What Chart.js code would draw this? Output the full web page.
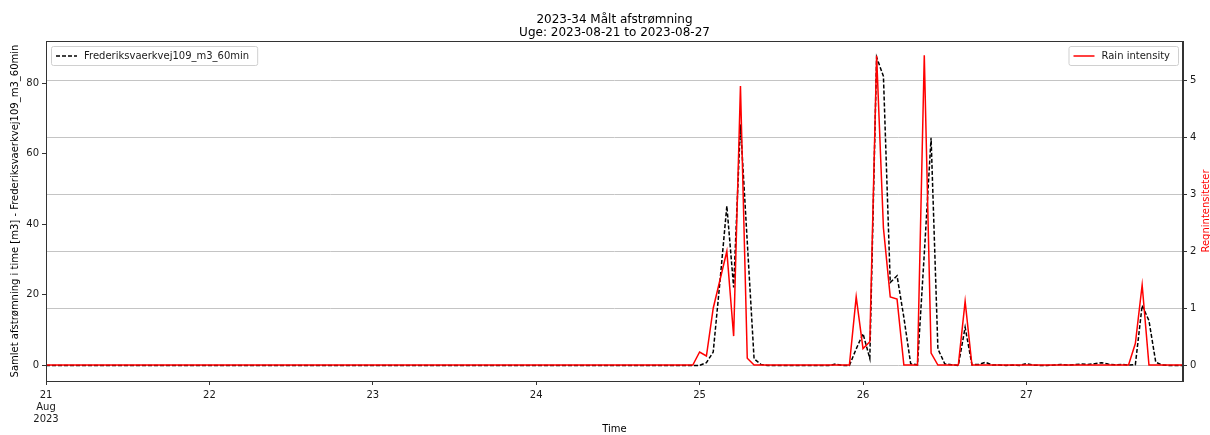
<!DOCTYPE html>
<html>
<head>
<meta charset="utf-8">
<title>2023-34 Målt afstrømning</title>
<script src="https://cdn.jsdelivr.net/npm/chart.js@4.4.0/dist/chart.umd.min.js"></script>
<style>
  html, body { margin: 0; padding: 0; background: #fff; }
  #wrap { width: 1210px; height: 435px; }
</style>
</head>
<body>
<div id="wrap"><canvas id="runoffChart" width="1210" height="435"></canvas></div>
<script>
// days in the week (tick labels)
const dayTicks = ['21', '22', '23', '24', '25', '26', '27'];

// hourly runoff [m3], one row per day (24 values)
const runoff = [
  0,0,0,0,0,0,0,0,0,0,0,0,0,0,0,0,0,0,0,0,0,0,0,0,          // 21
  0,0,0,0,0,0,0,0,0,0,0,0,0,0,0,0,0,0,0,0,0,0,0,0,          // 22
  0,0,0,0,0,0,0,0,0,0,0,0,0,0,0,0,0,0,0,0,0,0,0,0,          // 23
  0,0,0,0,0,0,0,0,0,0,0,0,0,0,0,0,0,0,0,0,0,0,0,0,          // 24
  0,0.8,3.8,24,45.2,22.1,68.3,35,1.9,0.3,0,0,0,0,0,0,0,0,0,0,0.4,0,0,4.7,   // 25
  9.0,2.0,87.3,81.9,23.5,25.4,13.6,0.5,0.2,31.6,64.5,4.7,0.5,0.2,0,10.8,0.2,0.3,0.9,0.1,0.1,0,0.1,0,   // 26
  0.5,0.1,0,0,0.1,0.3,0.1,0.2,0.4,0.3,0.5,0.8,0.4,0.2,0.3,0.1,0.2,17,12.7,0.9,0.1,0,0,0  // 27
];
// hourly rain intensity, one row per day
const rain = [
  0,0,0,0,0,0,0,0,0,0,0,0,0,0,0,0,0,0,0,0,0,0,0,0,
  0,0,0,0,0,0,0,0,0,0,0,0,0,0,0,0,0,0,0,0,0,0,0,0,
  0,0,0,0,0,0,0,0,0,0,0,0,0,0,0,0,0,0,0,0,0,0,0,0,
  0,0,0,0,0,0,0,0,0,0,0,0,0,0,0,0,0,0,0,0,0,0,0,0,
  0.23,0.16,1.0,1.5,2.0,0.51,4.91,0.12,0,0,0,0,0,0,0,0,0,0,0,0,0,0,0,1.2,
  0.29,0.41,5.44,2.41,1.2,1.16,0,0,0,5.45,0.21,0,0,0,0,1.12,0,0,0,0,0,0,0,0,
  0,0,0,0,0,0,0,0,0,0,0,0,0,0,0,0,0.38,1.41,0,0,0,0,0,0
];

const hourLabels = [];
dayTicks.forEach(d => {
  for (let h = 0; h < 24; h++) hourLabels.push('2023-08-' + d + ' ' + String(h).padStart(2, '0') + ':00');
});

Chart.defaults.font.family = 'DejaVu Sans';
Chart.defaults.font.size = 10;
Chart.defaults.color = '#1a1a1a';

const FRAME = '#333333';

// two matplotlib-like legends, frame and right axis label
const extras = {
  id: 'extras',
  afterDraw(chart) {
    const { ctx, chartArea: a } = chart;
    ctx.save();
    // frame
    ctx.strokeStyle = FRAME;
    ctx.lineWidth = 1;
    ctx.strokeRect(a.left + 0.5, a.top + 0.5, a.right - a.left - 1, a.bottom - a.top);

    ctx.font = '10px "DejaVu Sans"';
    ctx.textBaseline = 'middle';
    function legendBox(x, y, text, color, dash) {
      const tw = ctx.measureText(text).width;
      const w = tw + 41, h = 19;
      ctx.beginPath();
      ctx.roundRect(x + 0.5, y + 0.5, w, h, 2);
      ctx.fillStyle = 'rgba(255,255,255,0.8)';
      ctx.fill();
      ctx.strokeStyle = '#d0d0d0';
      ctx.lineWidth = 1;
      ctx.setLineDash([]);
      ctx.stroke();
      ctx.beginPath();
      ctx.setLineDash(dash);
      ctx.strokeStyle = color;
      ctx.lineWidth = 1.5;
      ctx.moveTo(x + 5, y + 10);
      ctx.lineTo(x + 26, y + 10);
      ctx.stroke();
      ctx.setLineDash([]);
      ctx.fillStyle = '#1a1a1a';
      ctx.textAlign = 'left';
      ctx.fillText(text, x + 33, y + 10);
      return w;
    }
    legendBox(a.left + 5, a.top + 5, 'Frederiksvaerkvej109_m3_60min', '#000', [4, 2]);
    const rt = 'Rain intensity';
    const rw = ctx.measureText(rt).width + 41;
    legendBox(a.right - 5 - rw, a.top + 5, rt, '#ff0000', []);

    // right axis title (reads bottom to top like matplotlib)
    ctx.translate(1206, (a.top + a.bottom) / 2);
    ctx.rotate(-Math.PI / 2);
    ctx.fillStyle = '#ff0000';
    ctx.textAlign = 'center';
    ctx.fillText('Regnintensiteter', 0, 0);
    ctx.restore();
  }
};

new Chart(document.getElementById('runoffChart'), {
  type: 'line',
  data: {
    labels: hourLabels,
    datasets: [
      {
        label: 'Frederiksvaerkvej109_m3_60min',
        data: runoff,
        yAxisID: 'y',
        borderColor: '#000000',
        borderWidth: 1.5,
        borderDash: [4, 2],
        pointRadius: 0,
        tension: 0,
        order: 1
      },
      {
        label: 'Rain intensity',
        data: rain,
        yAxisID: 'y1',
        borderColor: '#ff0000',
        borderWidth: 1.5,
        pointRadius: 0,
        tension: 0,
        order: 0
      }
    ]
  },
  options: {
    responsive: false,
    animation: false,
    layout: { padding: 0 },
    plugins: {
      legend: { display: false },
      tooltip: { enabled: false },
      title: {
        display: true,
        fullSize: false,
        text: ['2023-34 Målt afstrømning', 'Uge: 2023-08-21 to 2023-08-27'],
        color: '#000',
        font: { size: 12, weight: 'normal', lineHeight: 1.1 },
        padding: { top: 13, bottom: 1.6 }
      }
    },
    scales: {
      x: {
        type: 'category',
        offset: false,
        afterBuildTicks: s => { s.ticks = s.ticks.filter(t => t.value % 24 === 0); },
        afterFit: s => { s.height = 54; },
        ticks: {
          autoSkip: false,
          maxRotation: 0,
          padding: 4,
          color: '#1a1a1a',
          callback: function (value) {
            const d = dayTicks[value / 24];
            return value === 0 ? [d, 'Aug', '2023'] : d;
          }
        },
        grid: { drawOnChartArea: false, tickLength: 4, color: FRAME },
        border: { color: FRAME },
        title: { display: true, text: 'Time', color: '#000', padding: { top: 0, bottom: 0 } }
      },
      y: {
        position: 'left',
        min: -4.4,
        max: 91.9,
        afterFit: s => { s.width = 46; },
        ticks: { stepSize: 20, includeBounds: false, padding: 3, color: '#1a1a1a' },
        grid: { drawOnChartArea: false, tickLength: 4, color: FRAME },
        border: { color: FRAME },
        title: {
          display: true,
          text: 'Samlet afstrømning i time [m3] - Frederiksvaerkvej109_m3_60min',
          color: '#000',
          padding: { top: 9, bottom: 0 }
        }
      },
      y1: {
        position: 'right',
        min: -0.28,
        max: 5.70,
        afterFit: s => { s.width = 27; },
        ticks: { stepSize: 1, includeBounds: false, padding: 3, color: '#1a1a1a' },
        grid: { drawOnChartArea: true, color: '#c4c4c4', lineWidth: 1, tickLength: 4, tickColor: FRAME },
        border: { color: FRAME }
      }
    }
  },
  plugins: [extras]
});
</script>
</body>
</html>
